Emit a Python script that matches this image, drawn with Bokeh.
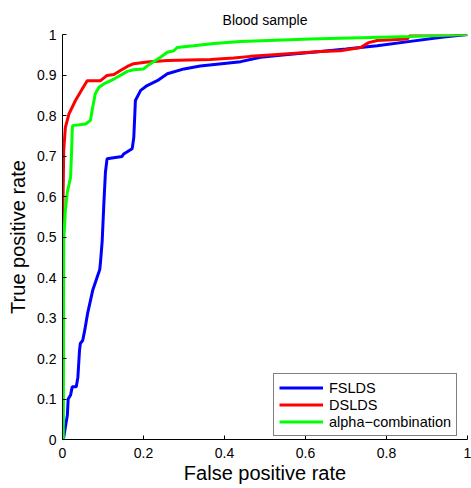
from bokeh.plotting import figure
from bokeh.models import FixedTicker
from bokeh.embed import file_html
from bokeh.resources import INLINE

# ---- data ----
fslds_x = [0, 0.003, 0.007, 0.012, 0.014, 0.02, 0.024, 0.034, 0.038, 0.040, 0.042, 0.044, 0.05, 0.055,
           0.059, 0.0625, 0.075, 0.092, 0.094, 0.098, 0.102, 0.106, 0.110, 0.147, 0.151, 0.172, 0.176,
           0.178, 0.180, 0.193, 0.209, 0.234, 0.259, 0.30, 0.34, 0.44, 0.489, 0.55, 0.637, 0.70, 0.777,
           0.859, 0.941, 1.0]
fslds_y = [0, 0.005, 0.03, 0.06, 0.10, 0.11, 0.13, 0.13, 0.154, 0.187, 0.22, 0.237, 0.245, 0.27,
           0.294, 0.314, 0.37, 0.42, 0.44, 0.49, 0.58, 0.66, 0.693, 0.699, 0.705, 0.718, 0.745,
           0.79, 0.837, 0.862, 0.874, 0.886, 0.903, 0.915, 0.922, 0.933, 0.944, 0.950, 0.958, 0.964, 0.972,
           0.983, 0.994, 1.0]

dslds_x = [0, 0, 0.001, 0.003, 0.007, 0.016, 0.032, 0.049, 0.061, 0.094, 0.11, 0.127, 0.143, 0.16,
           0.176, 0.209, 0.259, 0.365, 0.423, 0.464, 0.522, 0.637, 0.686, 0.736, 0.756, 0.777, 0.851,
           0.859, 1.0]
dslds_y = [0, 0.50, 0.565, 0.714, 0.77, 0.804, 0.837, 0.866, 0.886, 0.886, 0.899, 0.901, 0.911, 0.921,
           0.928, 0.932, 0.936, 0.938, 0.942, 0.946, 0.950, 0.958, 0.960, 0.968, 0.980, 0.985, 0.989,
           0.998, 1.0]

alpha_x = [0.002, 0.003, 0.007, 0.012, 0.02, 0.022, 0.024, 0.025, 0.057, 0.069, 0.073, 0.081, 0.09,
           0.102, 0.127, 0.16, 0.176, 0.2, 0.217, 0.242, 0.259, 0.275, 0.283, 0.324, 0.374, 0.44, 0.612,
           0.859, 1.0]
alpha_y = [0, 0.49, 0.565, 0.611, 0.648, 0.70, 0.763, 0.775, 0.779, 0.788, 0.812, 0.854, 0.87,
           0.878, 0.89, 0.909, 0.913, 0.915, 0.928, 0.944, 0.956, 0.96, 0.968, 0.972, 0.978, 0.983, 0.989,
           0.995, 1.0]

series_names = ["FSLDS", "DSLDS", "alpha\u2212combination"]

x_ticks = [0, 0.2, 0.4, 0.6, 0.8, 1]
x_tick_labels = ["0", "0.2", "0.4", "0.6", "0.8", "1"]
y_ticks = [0, 0.1, 0.2, 0.3, 0.4, 0.5, 0.6, 0.7, 0.8, 0.9, 1]
y_tick_labels = ["0", "0.1", "0.2", "0.3", "0.4", "0.5", "0.6", "0.7", "0.8", "0.9", "1"]

FONT = "Liberation Sans"

p = figure(width=471, height=488, x_range=(0, 1), y_range=(0, 1),
           output_backend="svg", toolbar_location=None,
           min_border_left=62, min_border_right=4, min_border_top=34, min_border_bottom=49)

p.title.text = "Blood sample"
p.title.align = "center"
p.title.vertical_align = "middle"
p.title.text_font = FONT
p.title.text_font_size = "14px"
p.title.text_font_style = "normal"
p.title.text_color = "#000000"
p.title.standoff = 12

p.outline_line_color = None
p.xgrid.visible = False
p.ygrid.visible = False
p.background_fill_color = "white"
p.border_fill_color = "white"

colors = ["#0000ff", "#ff0000", "#00ff00"]
for xs, ys, c, name in zip([fslds_x, dslds_x, alpha_x], [fslds_y, dslds_y, alpha_y], colors, series_names):
    p.line(xs, ys, line_color=c, line_width=3, legend_label=name)

for ax, ticks, labels, lab in [(p.xaxis[0], x_ticks, x_tick_labels, "False positive rate"),
                               (p.yaxis[0], y_ticks, y_tick_labels, "True positive rate")]:
    ax.ticker = FixedTicker(ticks=ticks)
    ax.major_label_overrides = {t: l for t, l in zip(ticks, labels)}
    ax.minor_tick_line_color = None
    ax.major_tick_in = 4
    ax.major_tick_out = 0
    ax.axis_line_color = "#000000"
    ax.major_tick_line_color = "#000000"
    ax.major_label_text_font = FONT
    ax.major_label_text_font_size = "14px"
    ax.major_label_text_color = "#000000"
    ax.axis_label = lab
    ax.axis_label_text_font = FONT
    ax.axis_label_text_font_size = "20px"
    ax.axis_label_text_font_style = "normal"
    ax.axis_label_text_color = "#000000"

p.xaxis[0].major_label_standoff = 8
p.xaxis[0].axis_label_standoff = 1
p.yaxis[0].major_label_standoff = 6
p.yaxis[0].axis_label_standoff = 5

lg = p.legend[0]
lg.location = (211, 3)
lg.label_text_font = FONT
lg.label_text_font_size = "14.5px"
lg.label_text_color = "#000000"
lg.border_line_color = "#000000"
lg.border_line_width = 1
lg.background_fill_color = "white"
lg.background_fill_alpha = 1
lg.padding = 5
lg.margin = 0
lg.spacing = 0
lg.glyph_width = 44
lg.glyph_height = 17
lg.label_height = 17
lg.label_standoff = 6

open("out.html", "w").write(file_html(p, INLINE))
